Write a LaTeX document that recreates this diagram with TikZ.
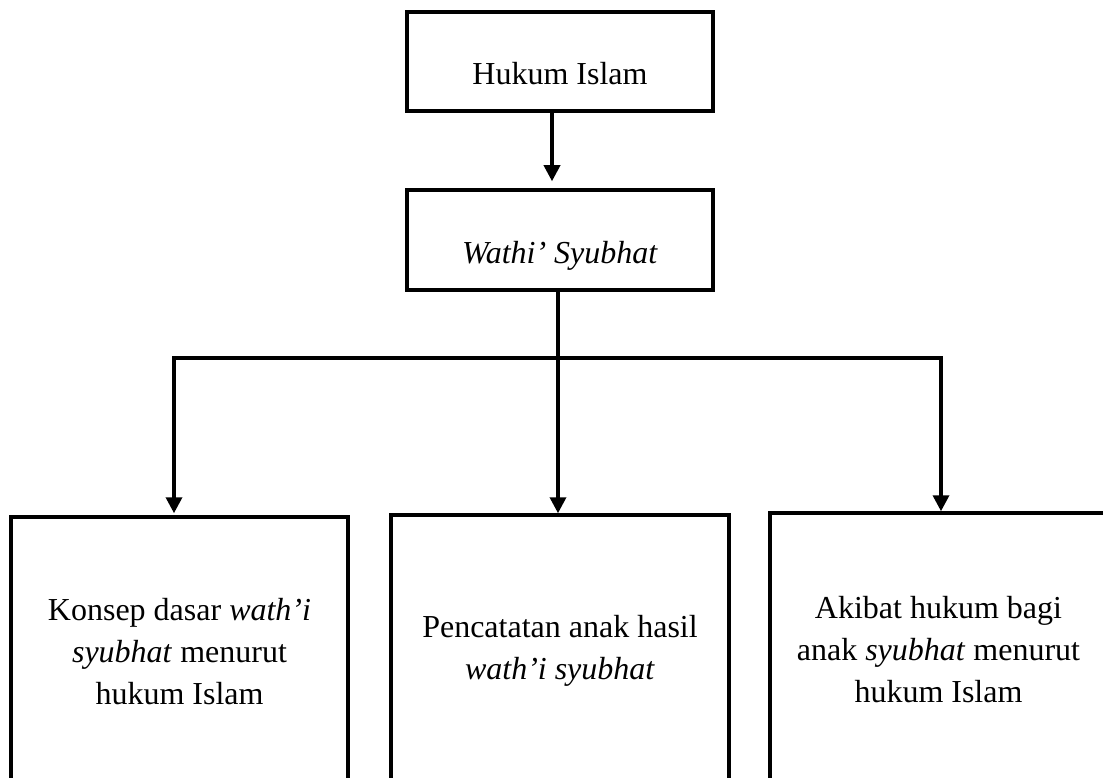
\documentclass[tikz,border=0pt]{standalone}
\usepackage{fontspec}
\setmainfont{Liberation Serif}
\usetikzlibrary{arrows.meta}
\begin{document}
\begin{tikzpicture}[x=1pt,y=-1pt,
  box/.style={draw=black, line width=3.5pt, rectangle, inner sep=0pt},
  txt/.style={font=\fontsize{32}{42}\selectfont, align=center, inner sep=0pt},
  conn/.style={draw=black, line width=3.5pt},
  arr/.style={conn, -{Triangle[length=16pt,width=16pt]}}]
\clip (0,0) rectangle (1103,778);
\fill[white] (0,0) rectangle (1103,778);
% top boxes
\node[box, minimum width=306pt, minimum height=99pt] (top) at (560,61.5) {};
\node[txt, anchor=base] (toptxt) at (560,85) {Hukum Islam};
\node[box, minimum width=306pt, minimum height=100pt] (wathi) at (560,240) {};
\node[txt, anchor=base] (wathitxt) at (560,263) {\textit{Wathi’ Syubhat}};
% bottom boxes
\node[box, txt, minimum width=337pt, minimum height=270pt] (left) at (179.5,652)
  {Konsep dasar \textit{wath’i}\\\textit{syubhat} menurut\\hukum Islam};
\node[box, txt, minimum width=338pt, minimum height=272pt] (mid) at (560,651)
  {Pencatatan anak hasil\\\textit{wath’i syubhat}};
\node[box, txt, minimum width=337pt, minimum height=274pt] (right) at (938.5,650)
  {Akibat hukum bagi\\anak \textit{syubhat} menurut\\hukum Islam};
% connectors
\draw[arr, shorten >=7pt] ([xshift=-8pt]top.south) -- ([xshift=-8pt]wathi.north);
\coordinate (jL) at (174,358);
\coordinate (jM) at (558,358);
\coordinate (jR) at (941,358);
\draw[conn] ([xshift=-2pt]wathi.south) -- (jM);
\draw[conn, line cap=rect] (jL) -- (jR);
\draw[arr, shorten >=2pt] (jL) -- (jL |- left.north);
\draw[arr] (jM) -- (jM |- mid.north);
\draw[arr] (jR) -- (jR |- right.north);
\end{tikzpicture}
\end{document}
